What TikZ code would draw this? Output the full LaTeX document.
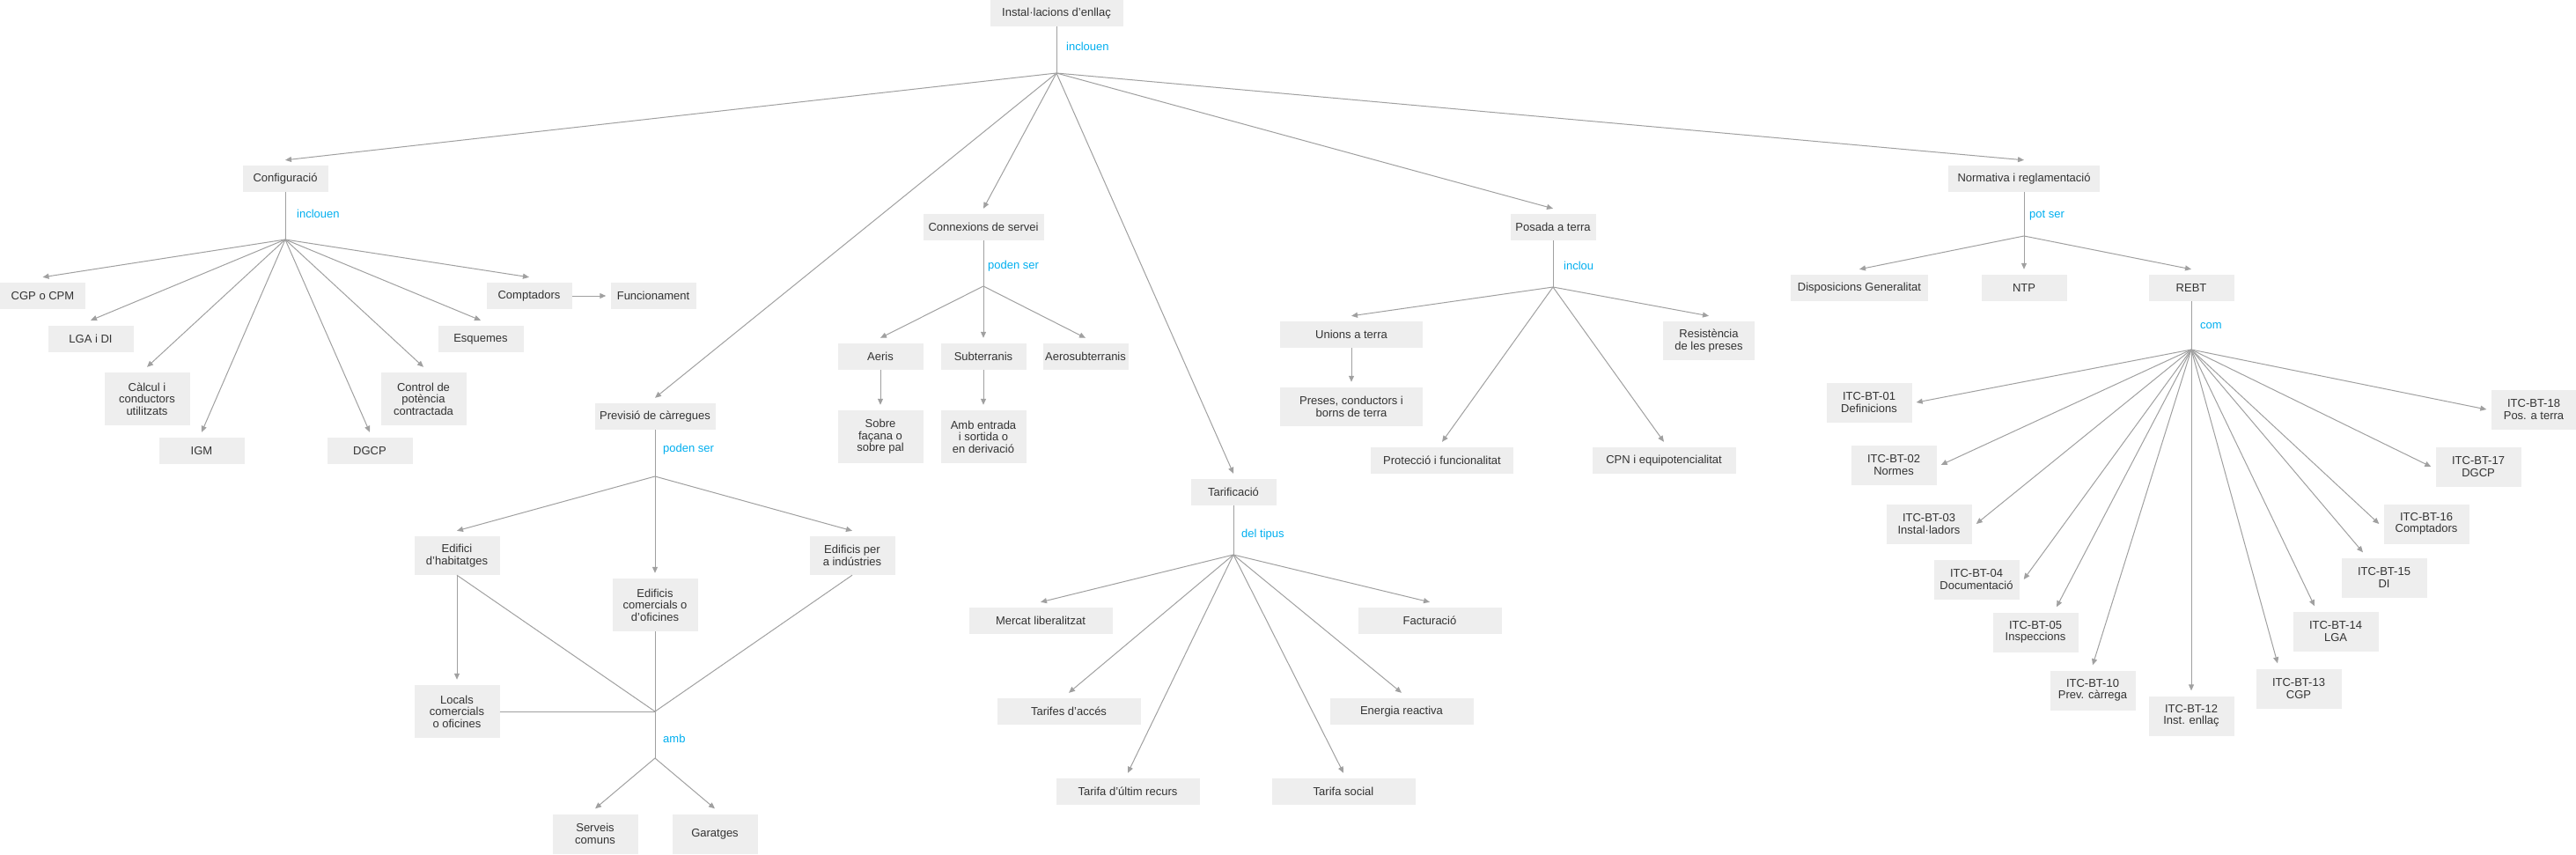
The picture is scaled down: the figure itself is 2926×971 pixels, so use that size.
\documentclass[tikz,border=0pt]{standalone}
\usepackage{fontspec}
\setmainfont{Liberation Sans}
\usetikzlibrary{arrows.meta}
\definecolor{boxgray}{HTML}{EEEEEE}
\definecolor{linegray}{HTML}{A0A0A0}
\definecolor{txtgray}{HTML}{333333}
\definecolor{linkblue}{HTML}{00AEEF}

\begin{document}
\begin{tikzpicture}[x=1pt,y=-1pt,
  concept/.style={fill=boxgray,text=txtgray,font=\fontsize{13}{13.5}\selectfont,
    align=center,inner sep=2pt,minimum width=97pt,minimum height=30pt},
  itc/.style={concept,minimum height=45pt},
  linkw/.style={text=linkblue,font=\fontsize{13}{13.5}\selectfont,anchor=west,inner sep=0pt},
  ln/.style={draw=linegray,line width=1pt},
  arr/.style={ln,-{Triangle[length=7pt,width=6pt]}}]
\useasboundingbox (0,0) rectangle (2926,971);

\node[concept,minimum width=151pt] (root) at (1200,15) {Instal·lacions d’enllaç};
\coordinate (hubR) at (1200,83);
\node[linkw] (lRoot) at (1211,53) {inclouen};

% Configuracio
\node[concept] (conf) at (324,203) {Configuració};
\coordinate (hubC) at (324,272);
\node[linkw] (lConf) at (337,243) {inclouen};
\node[concept] (cgp) at (48.5,336) {CGP o CPM};
\node[concept] (lga) at (103,385) {LGA i DI};
\node[concept,minimum height=60pt] (calc) at (167,453) {Càlcul i\\conductors\\utilitzats};
\node[concept] (igm) at (229,512) {IGM};
\node[concept] (dgcp) at (420,512) {DGCP};
\node[concept,minimum height=60pt] (ctrl) at (481,453) {Control de\\potència\\contractada};
\node[concept] (esq) at (546,385) {Esquemes};
\node[concept] (compt) at (601,336) {Comptadors};
\node[concept] (func) at (742,336) {Funcionament};

% Previsio de carregues
\node[concept,minimum width=137pt] (prev) at (744,473) {Previsió de càrregues};
\coordinate (hubP) at (744,541);
\node[linkw] (lPrev) at (753,510) {poden ser};
\node[concept,minimum height=44pt] (hab) at (519,631) {Edifici\\d’habitatges};
\node[concept,minimum height=60pt] (comer) at (744,687) {Edificis\\comercials o\\d’oficines};
\node[concept,minimum height=44pt] (ind) at (968,631) {Edificis per\\a indústries};
\node[concept,minimum height=60pt] (loc) at (519,808) {Locals\\comercials\\o oficines};
\coordinate (jA) at (744,808);
\coordinate (jB) at (744,861);
\node[linkw] (lAmb) at (753,839) {amb};
\node[concept,minimum height=45pt] (serv) at (676,947) {Serveis\\comuns};
\node[concept,minimum height=45pt] (gar) at (812,947) {Garatges};

% Connexions de servei
\node[concept,minimum width=137pt] (conn) at (1117,258) {Connexions de servei};
\coordinate (hubS) at (1117,325);
\node[linkw] (lConn) at (1122,302) {poden ser};
\node[concept] (aer) at (1000,405) {Aeris};
\node[concept] (sub) at (1117,405) {Subterranis};
\node[concept] (aers) at (1233,405) {Aerosubterranis};
\node[concept,minimum height=60pt] (sobre) at (1000,496) {Sobre\\façana o\\sobre pal};
\node[concept,minimum height=60pt] (entr) at (1117,496) {Amb entrada\\i sortida o\\en derivació};

% Tarificacio
\node[concept] (tar) at (1401,559) {Tarificació};
\coordinate (hubT) at (1401,630);
\node[linkw] (lTar) at (1410,607) {del tipus};
\node[concept,minimum width=163pt] (merc) at (1182,705) {Mercat liberalitzat};
\node[concept,minimum width=163pt] (fact) at (1624,705) {Facturació};
\node[concept,minimum width=163pt] (tacc) at (1214,808) {Tarifes d’accés};
\node[concept,minimum width=163pt] (ener) at (1592,808) {Energia reactiva};
\node[concept,minimum width=163pt] (tult) at (1281,899) {Tarifa d’últim recurs};
\node[concept,minimum width=163pt] (tsoc) at (1526,899) {Tarifa social};

% Posada a terra
\node[concept] (pos) at (1764,258) {Posada a terra};
\coordinate (hubG) at (1764,326);
\node[linkw] (lPos) at (1776,302) {inclou};
\node[concept,minimum width=162pt] (uni) at (1535,380) {Unions a terra};
\node[concept,minimum width=162pt,minimum height=44pt] (pres) at (1535,462) {Preses, conductors i\\borns de terra};
\node[concept,minimum width=162pt] (prot) at (1638,523) {Protecció i funcionalitat};
\node[concept,minimum width=163pt] (cpn) at (1890,523) {CPN i equipotencialitat};
\node[concept,minimum width=104pt,minimum height=44pt] (res) at (1941,387) {Resistència\\de les preses};

% Normativa i REBT
\node[concept,minimum width=172pt] (norm) at (2299,203) {Normativa i reglamentació};
\coordinate (hubN) at (2299,268);
\node[linkw] (lNorm) at (2305,245) {pot ser};
\node[concept,minimum width=156pt] (disp) at (2112,327) {Disposicions Generalitat};
\node[concept] (ntp) at (2299,327) {NTP};
\node[concept] (rebt) at (2489,327) {REBT};
\coordinate (hubB) at (2489,397);
\node[linkw] (lRebt) at (2499,370) {com};
\node[itc] (itc01) at (2123,457) {ITC-BT-01\\Definicions};
\node[itc] (itc02) at (2151,528) {ITC-BT-02\\Normes};
\node[itc] (itc03) at (2191,595) {ITC-BT-03\\Instal·ladors};
\node[itc] (itc04) at (2245,658) {ITC-BT-04\\Documentació};
\node[itc] (itc05) at (2312,718) {ITC-BT-05\\Inspeccions};
\node[itc] (itc10) at (2377,784) {ITC-BT-10\\Prev. càrrega};
\node[itc] (itc12) at (2489,813) {ITC-BT-12\\Inst. enllaç};
\node[itc] (itc13) at (2611,782) {ITC-BT-13\\CGP};
\node[itc] (itc14) at (2653,717) {ITC-BT-14\\LGA};
\node[itc] (itc15) at (2708,656) {ITC-BT-15\\DI};
\node[itc] (itc16) at (2756,595) {ITC-BT-16\\Comptadors};
\node[itc] (itc17) at (2815,530) {ITC-BT-17\\DGCP};
\node[itc] (itc18) at (2878,465) {ITC-BT-18\\Pos. a terra};

% connectors
\draw[ln] (root) -- (hubR);
\draw[arr] (hubR) -- ([yshift=6pt]conf.north);
\draw[arr] (hubR) -- ([yshift=6pt]prev.north);
\draw[arr] (hubR) -- ([yshift=6pt]conn.north);
\draw[arr] (hubR) -- ([yshift=6pt]tar.north);
\draw[arr] (hubR) -- ([yshift=6pt]pos.north);
\draw[arr] (hubR) -- ([yshift=6pt]norm.north);

\draw[ln] (conf) -- (hubC);
\draw[arr] (hubC) -- ([yshift=6pt]cgp.north);
\draw[arr] (hubC) -- ([yshift=6pt]lga.north);
\draw[arr] (hubC) -- ([yshift=6pt]calc.north);
\draw[arr] (hubC) -- ([yshift=6pt]igm.north);
\draw[arr] (hubC) -- ([yshift=6pt]dgcp.north);
\draw[arr] (hubC) -- ([yshift=6pt]ctrl.north);
\draw[arr] (hubC) -- ([yshift=6pt]esq.north);
\draw[arr] (hubC) -- ([yshift=6pt]compt.north);
\draw[arr] (compt) -- ([xshift=-5pt]func.west);

\draw[ln] (prev) -- (hubP);
\draw[arr] (hubP) -- ([yshift=6pt]hab.north);
\draw[arr] (hubP) -- ([yshift=6pt]comer.north);
\draw[arr] (hubP) -- ([yshift=6pt]ind.north);
\draw[arr] (hab) -- ([yshift=6pt]loc.north);
\draw[ln] (hab.south) -- (jA);
\draw[ln] (comer) -- (jA);
\draw[ln] (ind.south) -- (jA);
\draw[ln] (loc) -- (jA);
\draw[ln] (jA) -- (jB);
\draw[arr] (jB) -- ([yshift=6pt]serv.north);
\draw[arr] (jB) -- ([yshift=6pt]gar.north);

\draw[ln] (conn) -- (hubS);
\draw[arr] (hubS) -- ([yshift=6pt]aer.north);
\draw[arr] (hubS) -- ([yshift=6pt]sub.north);
\draw[arr] (hubS) -- ([yshift=6pt]aers.north);
\draw[arr] (aer) -- ([yshift=6pt]sobre.north);
\draw[arr] (sub) -- ([yshift=6pt]entr.north);

\draw[ln] (tar) -- (hubT);
\draw[arr] (hubT) -- ([yshift=6pt]merc.north);
\draw[arr] (hubT) -- ([yshift=6pt]fact.north);
\draw[arr] (hubT) -- ([yshift=6pt]tacc.north);
\draw[arr] (hubT) -- ([yshift=6pt]ener.north);
\draw[arr] (hubT) -- ([yshift=6pt]tult.north);
\draw[arr] (hubT) -- ([yshift=6pt]tsoc.north);

\draw[ln] (pos) -- (hubG);
\draw[arr] (hubG) -- ([yshift=6pt]uni.north);
\draw[arr] (hubG) -- ([yshift=6pt]prot.north);
\draw[arr] (hubG) -- ([yshift=6pt]cpn.north);
\draw[arr] (hubG) -- ([yshift=6pt]res.north);
\draw[arr] (uni) -- ([yshift=6pt]pres.north);

\draw[ln] (norm) -- (hubN);
\draw[arr] (hubN) -- ([yshift=6pt]disp.north);
\draw[arr] (hubN) -- ([yshift=6pt]ntp.north);
\draw[arr] (hubN) -- ([yshift=6pt]rebt.north);
\draw[ln] (rebt) -- (hubB);
\draw[arr] (hubB) -- ([xshift=5pt]itc01.east);
\draw[arr] (hubB) -- ([xshift=5pt]itc02.east);
\draw[arr] (hubB) -- ([xshift=5pt]itc03.east);
\draw[arr] (hubB) -- ([xshift=5pt]itc04.east);
\draw[arr] (hubB) -- ([xshift=24pt,yshift=6pt]itc05.north);
\draw[arr] (hubB) -- ([yshift=6pt]itc10.north);
\draw[arr] (hubB) -- ([yshift=6pt]itc12.north);
\draw[arr] (hubB) -- ([xshift=-24pt,yshift=6pt]itc13.north);
\draw[arr] (hubB) -- ([xshift=-24pt,yshift=6pt]itc14.north);
\draw[arr] (hubB) -- ([xshift=-24pt,yshift=6pt]itc15.north);
\draw[arr] (hubB) -- ([xshift=-5pt]itc16.west);
\draw[arr] (hubB) -- ([xshift=-5pt]itc17.west);
\draw[arr] (hubB) -- ([xshift=-5pt]itc18.west);
\end{tikzpicture}
\end{document}
